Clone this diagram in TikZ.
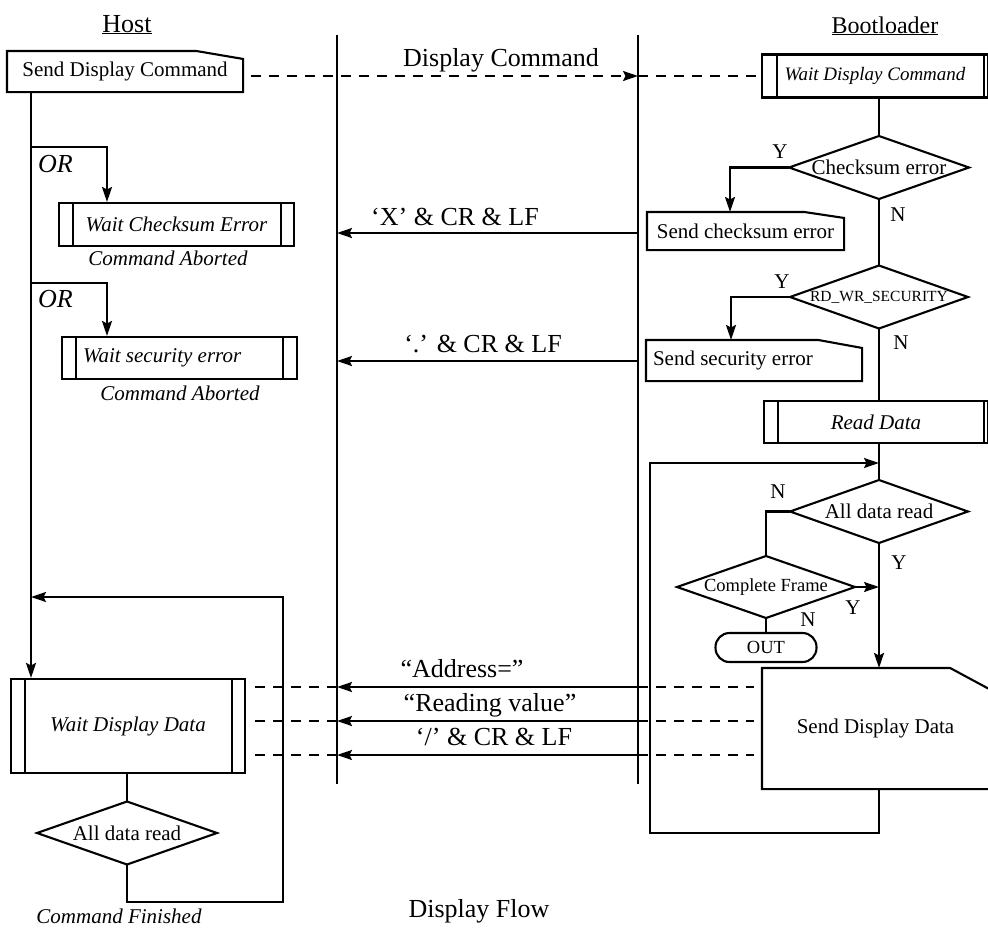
\documentclass[tikz,border=0pt]{standalone}
\usepackage{fontspec}
\setmainfont{Liberation Serif}
\usetikzlibrary{arrows.meta,calc}
\newcommand{\fsz}[1]{\fontsize{#1}{#1}\selectfont}
\newcommand{\myinner}[3]{%
  \draw ($(#1.north west)+(#2,0)$) -- ($(#1.south west)+(#2,0)$);
  \draw ($(#1.north east)-(#3,0)$) -- ($(#1.south east)-(#3,0)$);}
\newcommand{\mycut}[3]{%
  \draw (#1.south west) -- (#1.north west) -- ($(#1.north east)-(#2,0)$) -- ($(#1.north east)+(0,#3)$) -- (#1.south east) -- cycle;}
\newcommand{\mydia}[7]{%
  \coordinate (#1-t) at (#2,#3-#5);
  \coordinate (#1-b) at (#2,#3+#5);
  \coordinate (#1-l) at (#2-#4,#3);
  \coordinate (#1-r) at (#2+#4,#3);
  \draw (#1-t) -- (#1-r) -- (#1-b) -- (#1-l) -- cycle;
  \node[inner sep=0pt, font=\fsz{#6}] (#1) at (#2,#3) {#7};}
\begin{document}
\begin{tikzpicture}[x=1pt,y=-1pt,
  line width=2.1pt,
  arr/.style={-{Stealth[length=15pt,width=10pt,inset=2.5pt]}},
  dsh/.style={dash pattern=on 10pt off 8pt},
  pbox/.style={draw, rectangle, inner sep=0pt, font={\fsz{21}\itshape}},
  cutbox/.style={rectangle, inner sep=0pt, font=\fsz{21}},
  lbl/.style={inner sep=0pt, font=\fsz{21}},
  big/.style={inner sep=0pt, font=\fsz{26}, anchor=base},
  itl/.style={inner sep=0pt, font={\fsz{21}\itshape}, anchor=base}]
\useasboundingbox (0,0) rectangle (988,932);

% titles
\node[inner sep=0pt, font=\fsz{26}, anchor=base] (hostT) at (127,32) {\underline{Host}};
\node[inner sep=0pt, font=\fsz{24}, anchor=base] (bootT) at (885,33) {\underline{Bootloader}};

% lifelines
\coordinate (l1t) at (337,35); \coordinate (l1b) at (337,784);
\coordinate (l2t) at (638,35); \coordinate (l2b) at (638,784);
\draw (l1t) -- (l1b);
\draw (l2t) -- (l2b);

% helper coordinates
\coordinate (hx) at (31,0);
\coordinate (bx) at (879,0);
\coordinate (rx) at (0,233);
\coordinate (rdot) at (0,361);
\coordinate (r1) at (0,687);
\coordinate (r2) at (0,721);
\coordinate (r3) at (0,755);

% ---------- Host side ----------
\node[cutbox, minimum width=234pt, minimum height=39pt] (sdc) at (125,71.5) {Send Display Command};
\mycut{sdc}{47}{8}

\node[pbox, minimum width=235pt, minimum height=43pt] (wce) at (176.5,224.5) {Wait Checksum Error};
\myinner{wce}{15}{14}
\node[itl] (ca1) at (168,265) {Command Aborted};
\node[inner sep=0pt, font={\fsz{26}\itshape}, anchor=base west] (orl1) at (37,172) {OR};

\node[pbox, minimum width=235pt, minimum height=42pt, text width=193pt, inner xsep=21pt, align=flush left] (wse) at (179.5,358) {Wait security error};
\myinner{wse}{15}{15}
\node[itl] (ca2) at (180,400) {Command Aborted};
\node[inner sep=0pt, font={\fsz{26}\itshape}, anchor=base west] (orl2) at (37,307) {OR};

\node[pbox, minimum width=234pt, minimum height=94pt] (wdd) at (128,726) {Wait Display Data};
\myinner{wdd}{15}{14}
\mydia{hadr}{127}{833}{90}{31.5}{21}{All data read}
\node[itl] (cfin) at (119,923) {Command Finished};

\coordinate (or1) at (31,147); \coordinate (b1) at (107,147);
\coordinate (or2) at (31,283); \coordinate (b2) at (107,283);
\coordinate (hl1) at (283,902); \coordinate (hj) at (31,597);

\draw[arr] (hx |- sdc.south) -- (hx |- wdd.north);
\draw[arr] (or1) -- (b1) -- (b1 |- wce.north);
\draw[arr] (or2) -- (b2) -- (b2 |- wse.north);
\draw (hadr-t |- wdd.south) -- (hadr-t);
\draw[arr] (hadr-b) |- (hl1) |- (hj);

% ---------- Bootloader side ----------
\node[pbox, font={\fsz{19}\itshape}, minimum width=226pt, minimum height=43pt] (wdc) at (875,76) {Wait Display Command};
\myinner{wdc}{16}{5}

\mydia{cks}{879}{167.5}{90}{31.5}{21}{Checksum error}
\node[lbl] (y1) at (780,152) {Y};
\node[cutbox, minimum width=195pt, minimum height=36pt] (sce) at (745.5,231) {Send checksum error};
\mycut{sce}{40}{6}
\node[lbl] (n1) at (898,215) {N};

\mydia{rws}{879}{297}{89}{31.5}{15.5}{RD\_WR\_SECURITY}
\node[lbl] (y2) at (782,282) {Y};
\node[cutbox, minimum width=214pt, minimum height=39pt, text width=202pt, inner xsep=6pt, align=flush left] (sse) at (754,360.5) {Send security error};
\mycut{sse}{44}{8}
\node[lbl] (n2) at (901,343) {N};

\node[pbox, minimum width=224pt, minimum height=42pt] (rd) at (876,422) {Read Data};
\myinner{rd}{15}{5}

\mydia{adr}{879}{511.5}{89}{31.5}{21}{All data read}
\node[lbl] (n3) at (778,492) {N};
\mydia{cf}{766}{587}{89}{31}{18.5}{Complete Frame}
\node[lbl] (y3) at (899,563) {Y};
\node[lbl] (y4) at (853,608) {Y};
\node[lbl] (n4) at (808,620) {N};
\node[draw, rounded corners=14pt, minimum width=101pt, minimum height=29pt, inner sep=0pt, font=\fsz{18.5}] (out) at (766,647.5) {OUT};

\node[cutbox, minimum width=225pt, minimum height=119pt] (sdd) at (875.5,728.5) {Send Display Data};
\mycut{sdd}{39}{21}

\coordinate (c1) at (730,0);
\coordinate (c2) at (731,0);
\coordinate (lp1) at (650,833); \coordinate (lp2) at (650,463);

\draw (bx |- wdc.south) -- (cks-t);
\draw[arr] (cks-l) -| (c1 |- sce.north);
\draw (cks-b) -- (rws-t);
\draw[arr] (rws-l) -| (c2 |- sse.north);
\draw (rws-b) -- (bx |- rd.north);
\draw (bx |- rd.south) -- (adr-t);
\draw (adr-l) -| (cf-t);
\draw[arr] (cf-r) -- (bx |- cf-r);
\draw (cf-b) -- (out.north);
\draw[arr] (adr-b) -- (bx |- sdd.north);
\draw[arr] (bx |- sdd.south) |- (lp1) -- (lp2) -- (bx |- lp2);

% ---------- messages ----------
\node[big] (dcl) at (501,66) {Display Command};
\draw[dsh, arr] ($(sdc.east |- wdc.west)+(8,0)$) -- (l2t |- wdc.west);
\draw[dsh] (l2t |- wdc.west) -- (wdc.west);

\node[big] (mx) at (455,225) {‘X’ \& CR \& LF};
\draw[arr] (l2t |- rx) -- (l1t |- rx);
\node[big] (mdot) at (483,352) {‘.’ \& CR \& LF};
\draw[arr] (l2t |- rdot) -- (l1t |- rdot);

\node[big] (m1) at (462,677) {“Address=”};
\node[big] (m2) at (490,711) {“Reading value”};
\node[big] (m3) at (494,745) {‘/’ \& CR \& LF};
\foreach \r in {r1,r2,r3}{
  \draw[dsh] ($(wdd.east |- \r)+(9,0)$) -- (l1t |- \r);
  \draw[arr] (l2t |- \r) -- (l1t |- \r);
  \draw[dsh] (l2t |- \r) -- ($(sdd.west |- \r)+(-8,0)$);
}

\node[big] (title) at (479,917) {Display Flow};
\end{tikzpicture}
\end{document}
